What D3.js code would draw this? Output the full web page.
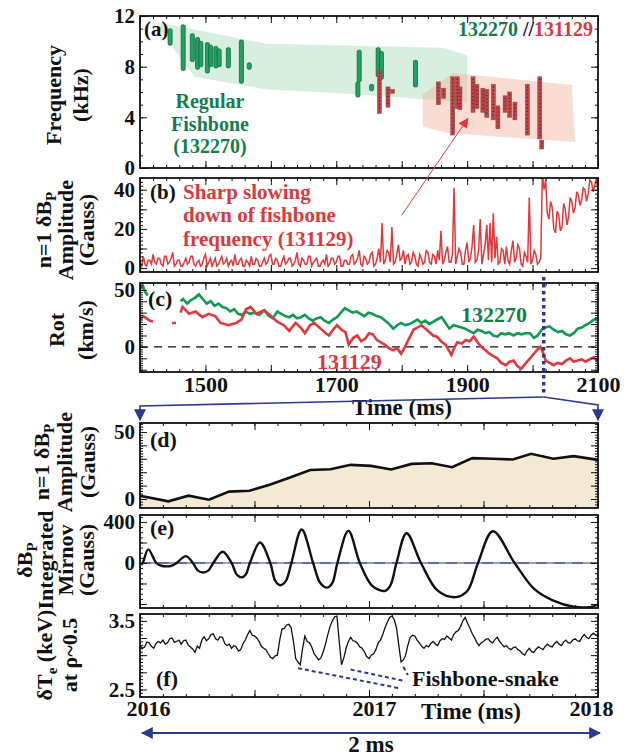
<!DOCTYPE html>
<html>
<head>
<meta charset="utf-8">
<script src="https://cdn.jsdelivr.net/npm/d3@7"></script>
<style>
  body { margin: 0; background: #fff; }
  svg text { font-family: "Liberation Serif", "Times New Roman", serif; font-weight: bold; }
</style>
</head>
<body>
<div id="chart"></div>
<script>
// ---- data ----

// (a) spectrogram bursts: [time ms, low kHz, high kHz]
var greenBursts = [
  [1446, 9.7, 11.0], [1466, 7.7, 11.3], [1480, 8.4, 10.6], [1488, 7.8, 10.3],
  [1493, 8.0, 10.0], [1503, 7.5, 9.9], [1508, 8.0, 9.7], [1516, 7.9, 9.6],
  [1521, 8.0, 9.4], [1535, 7.9, 9.5], [1555, 6.7, 10.1], [1567, 7.8, 8.3],
  [1735, 6.8, 9.3], [1733, 5.6, 6.8], [1754, 6.1, 6.6], [1764, 7.2, 9.5],
  [1769, 7.0, 9.2], [1821, 6.4, 8.5]
];
var redBursts = [
  [1766, 4.3, 7.7], [1779, 4.8, 6.4], [1786, 5.9, 6.2], [1856, 5.0, 6.8],
  [1864, 5.5, 6.3], [1878, 2.6, 7.2], [1885, 4.7, 7.2], [1889, 4.6, 6.4],
  [1909, 4.4, 7.2], [1915, 4.7, 6.6], [1924, 4.4, 6.3], [1930, 4.0, 6.2],
  [1940, 3.8, 6.6], [1947, 3.1, 4.9], [1958, 4.4, 5.7], [1965, 4.0, 6.0],
  [1973, 3.8, 5.2], [1992, 2.6, 6.6], [2011, 2.3, 7.2], [2014, 1.5, 2.2]
];
// shaded regions around the two shots
var greenRegion = [[1428, 11.5], [1594, 9.8], [1863, 9.5], [1900, 8.9], [1900, 5.2],
  [1706, 5.9], [1594, 6.2], [1483, 7.2], [1428, 11.1]];
var redRegion = [[1832, 5.8], [1878, 7.5], [2060, 6.55], [2065, 2.05], [1874, 2.75], [1832, 3.25]];

// (b) n=1 amplitude of 131129, one value every 2.5 ms from 1400
var bStart = 1400, bStep = 2.5;
var bAmp = [
  3, 1, 6, 2, 1, 4, 4, 2, 7, 3, 2, 5, 5, 2, 1, 6, 6, 2, 3, 5,
  8, 1, 2, 4, 4, 1, 1, 3, 5, 2, 3, 6, 6, 2, 1, 3, 4, 1, 2, 5,
  7, 1, 3, 5, 1, 3, 5, 1, 2, 4, 6, 2, 3, 5, 1, 3, 4, 1, 7, 2,
  2, 4, 5, 1, 1, 4, 3, 1, 6, 2, 2, 5, 4, 1, 1, 3, 5, 2, 3, 6,
  7, 2, 2, 5, 4, 1, 1, 4, 6, 2, 3, 5, 5, 1, 2, 4, 8, 2, 1, 5,
  4, 2, 2, 6, 6, 1, 3, 4, 5, 1, 1, 3, 4, 2, 7, 1, 2, 5, 5, 2,
  3, 6, 6, 1, 1, 4, 4, 2, 2, 6, 7, 2, 3, 5, 9, 2, 1, 6, 5, 2,
  3, 7, 8, 1, 2, 5, 10, 3, 23, 2, 4, 9, 8, 3, 21, 2, 3, 7, 12, 4,
  5, 9, 2, 6, 7, 2, 3, 8, 6, 2, 1, 7, 5, 2, 3, 9, 8, 3, 2, 7,
  6, 2, 9, 4, 19, 2, 4, 8, 11, 3, 3, 7, 41, 2, 6, 10, 8, 2, 2, 9,
  13, 3, 5, 11, 22, 3, 4, 9, 25, 2, 7, 12, 22, 4, 23, 3, 28, 5, 16, 2,
  3, 10, 9, 2, 11, 4, 2, 9, 14, 3, 5, 12, 10, 2, 1, 8, 6, 3, 36, 2,
  4, 9, 7, 2, 3, 5, 48, 40, 45, 28, 25, 34, 31, 20, 18, 29, 27, 19, 21, 33,
  30, 22, 26, 36, 34, 28, 31, 39, 37, 32, 35, 41, 40, 34, 38, 45, 44, 39, 42, 46, 40];

// (c) toroidal rotation [time ms, km/s], null = gap
var rotGreen = [[1400, 52], [1404, 54], [1408, 48], [1412, 45], null,
  [1462, 40], [1466, 42], [1472, 38], [1478, 41], [1484, 43], [1490, 46], [1496, 42],
  [1502, 38], [1508, 40], [1514, 36], [1520, 38], [1526, 35], [1532, 34], [1538, 31],
  [1544, 33], [1550, 29], [1556, 28], [1562, 31], [1568, 29], [1575, 30], [1582, 28],
  [1590, 32], [1597, 27], [1603, 25], [1610, 31], [1616, 29], [1622, 27], [1628, 26],
  [1634, 28], [1640, 25], [1646, 26], [1652, 28], [1658, 25], [1664, 23], [1670, 25],
  [1676, 26], [1682, 23], [1689, 21], [1695, 24], [1701, 26], [1707, 30], [1713, 34],
  [1719, 32], [1725, 30], [1731, 31], [1737, 29], [1743, 27], [1749, 30], [1755, 29],
  [1762, 27], [1768, 26], [1775, 23], [1781, 20], [1787, 16], [1793, 19], [1799, 21],
  [1805, 19], [1812, 20], [1818, 22], [1824, 24], [1830, 21], [1836, 23], [1842, 20],
  [1848, 22], [1854, 24], [1861, 26], [1867, 21], [1873, 16], [1879, 19], [1885, 18],
  [1891, 17], [1897, 16], [1903, 14], [1910, 12], [1916, 15], [1922, 14], [1928, 12],
  [1934, 13], [1940, 10], [1946, 9], [1952, 12], [1958, 11], [1964, 12], [1971, 10],
  [1977, 12], [1983, 11], [1989, 12], [1996, 12], [2002, 8], [2008, 10], [2014, 15],
  [2020, 17], [2026, 18], [2032, 15], [2039, 13], [2045, 14], [2051, 11], [2057, 10],
  [2063, 12], [2069, 16], [2075, 17], [2081, 19], [2087, 21], [2094, 24], [2100, 25]];
var rotRed = [[1400, 24], [1405, 27], [1410, 25], [1415, 23], [1420, 22], null,
  [1449, 21], [1455, 21], null,
  [1462, 30], [1465, 35], [1475, 29], [1485, 31], [1495, 26], [1505, 29], [1515, 27],
  [1523, 21], [1535, 19], [1547, 21], [1555, 24], [1562, 33], [1569, 35], [1578, 29],
  [1590, 32], [1600, 27], [1610, 22], [1620, 19], [1628, 14], [1638, 21], [1647, 16],
  [1652, 12], [1660, 19], [1666, 21], [1676, 16], [1684, 12], [1689, 10], [1695, 15],
  [1701, 19], [1708, 15], [1714, 13], [1719, 2], [1726, 8], [1732, 10], [1738, 5],
  [1744, 7], [1750, 12], [1756, 11], [1762, 6], [1768, 4], [1774, 2], [1780, -1],
  [1787, -3], [1793, -1], [1799, -6], [1805, 0], [1810, 6], [1818, 15], [1824, 17],
  [1830, 19], [1836, 16], [1842, 13], [1848, 10], [1854, 9], [1860, 5], [1867, 2],
  [1872, -3], [1876, -7], [1880, -1], [1885, 4], [1892, 3], [1898, 6], [1904, 5],
  [1910, 9], [1916, 4], [1922, 0], [1928, -3], [1934, -6], [1940, -8], [1946, -10],
  [1952, -14], [1959, -16], [1965, -13], [1971, -12], [1977, -17], [1983, -19], [1990, -14],
  [1996, -10], [2002, -6], [2008, -2], [2012, 0], [2016, -5], [2020, -12], [2026, -14],
  [2032, -16], [2038, -14], [2045, -15], [2051, -12], [2057, -10], [2063, -13], [2069, -12],
  [2075, -11], [2081, -13], [2087, -11], [2094, -9], [2100, -13]];

// (d) n=1 amplitude over the 2 ms window
var ampTime = [2016.0, 2016.124, 2016.212, 2016.301, 2016.389, 2016.478, 2016.566, 2016.655,
  2016.743, 2016.832, 2016.92, 2017.009, 2017.097, 2017.186, 2017.274, 2017.363,
  2017.451, 2017.54, 2017.628, 2017.708, 2017.805, 2017.894, 2018.0];
var ampVal = [2.5, -1.7, 2.5, -0.5, 5.5, 6.2, 10.7, 16, 21.7, 22.2, 25.5, 24.7,
  22, 26.2, 26.7, 23.7, 30.5, 30, 29.5, 33.7, 30, 32, 29.2];

// (e) integrated Mirnov signal
var mirTime = [2016.005, 2016.012, 2016.036, 2016.071, 2016.093, 2016.116, 2016.138, 2016.16,
  2016.201, 2016.231, 2016.253, 2016.276, 2016.298, 2016.32, 2016.361, 2016.4,
  2016.422, 2016.444, 2016.462, 2016.48, 2016.524, 2016.569, 2016.591, 2016.613, 2016.637,
  2016.661, 2016.706, 2016.756, 2016.787, 2016.818, 2016.84, 2016.862, 2016.91, 2016.96,
  2017.013, 2017.067, 2017.093, 2017.12, 2017.164, 2017.227, 2017.3, 2017.378, 2017.43,
  2017.476, 2017.541, 2017.636, 2017.72, 2017.805, 2017.894, 2017.964, 2018.0];
var mirVal = [-17, 0, 133, 0, -27, -33, -27, 0,
  67, 0, -75, -93, -75, 0, 110, 0,
  -112, -140, -112, 0, 200, 0, -175, -217, -175,
  0, 327, 0, -195, -240, -195, 0, 313, 0,
  -220, -273, -220, 0, 290, 0, -270, -333, -270,
  0, 310, 0, -250, -367, -427, -430, -405];

// (f) electron temperature, one value every 0.01 ms from 2016
var teStart = 2016, teStep = 0.01;
var teVal = [
  3.15, 3.10, 3.12, 3.19, 3.18, 3.13, 3.10, 3.17, 3.20, 3.18,
  3.22, 3.16, 3.18, 3.24, 3.25, 3.19, 3.20, 3.22, 3.16, 3.21,
  3.22, 3.15, 3.12, 3.09, 3.04, 3.13, 3.10, 3.22, 3.27, 3.21,
  3.24, 3.30, 3.31, 3.24, 3.22, 3.27, 3.26, 3.17, 3.14, 3.16,
  3.10, 3.14, 3.12, 3.06, 3.08, 3.17, 3.22, 3.30, 3.36, 3.29,
  3.28, 3.25, 3.20, 3.13, 3.10, 3.08, 3.02, 2.97, 2.95, 2.99,
  3.00, 3.22, 3.38, 3.39, 3.44, 3.45, 3.40, 3.20, 2.95, 2.90,
  2.86, 3.10, 3.28, 3.20, 3.18, 3.12, 3.02, 2.98, 2.93, 2.96,
  3.05, 3.16, 3.30, 3.42, 3.50, 3.56, 3.57, 3.20, 2.86, 2.96,
  3.10, 3.20, 3.26, 3.21, 3.20, 3.17, 3.12, 3.10, 3.05, 2.98,
  2.95, 3.00, 3.02, 3.08, 3.18, 3.22, 3.30, 3.40, 3.48, 3.55,
  3.57, 3.52, 3.40, 3.15, 2.90, 2.93, 3.00, 3.15, 3.26, 3.29,
  3.28, 3.22, 3.18, 3.13, 3.10, 3.14, 3.12, 3.17, 3.20, 3.16,
  3.14, 3.21, 3.24, 3.23, 3.28, 3.25, 3.22, 3.30, 3.34, 3.36,
  3.42, 3.50, 3.55, 3.47, 3.40, 3.32, 3.26, 3.19, 3.14, 3.18,
  3.20, 3.23, 3.24, 3.20, 3.18, 3.23, 3.26, 3.20, 3.16, 3.12,
  3.14, 3.10, 3.08, 3.11, 3.12, 3.08, 3.06, 3.02, 3.00, 3.06,
  3.10, 3.05, 3.04, 3.09, 3.12, 3.10, 3.08, 3.13, 3.16, 3.13,
  3.12, 3.17, 3.20, 3.16, 3.14, 3.19, 3.22, 3.18, 3.18, 3.22,
  3.24, 3.21, 3.20, 3.26, 3.30, 3.26, 3.24, 3.29, 3.32, 3.29, 3.28];

// ---- canvas ----
var width = 629, height = 756;
var svg = d3.select("#chart").append("svg")
  .attr("width", width)
  .attr("height", height);

var left = 140, right = 598;
var green = "#0f9a52", red = "#e0383c", navy = "#2b3a8f";
var greenText = "#137d4b", redText = "#d83a3d";

var xLong = d3.scaleLinear().domain([1400, 2100]).range([left, right]);
var xShort = d3.scaleLinear().domain([2016, 2018]).range([left, right]);

var ya = d3.scaleLinear().domain([0, 12]).range([168, 16]);
var yb = d3.scaleLinear().domain([-2, 46]).range([272, 178]);
var yc = d3.scaleLinear().domain([-22, 56]).range([372, 283]);
var yd = d3.scaleLinear().domain([-6.7, 56.7]).range([508, 423]);
var ye = d3.scaleLinear().domain([-439, 468]).range([608, 515]);
var yf = d3.scaleLinear().domain([2.39, 3.6]).range([697, 614]);

var defs = svg.append("defs");
function arrowMarker(id, color, size) {
  defs.append("marker")
    .attr("id", id)
    .attr("viewBox", "0 0 10 10")
    .attr("refX", 9).attr("refY", 5)
    .attr("markerUnits", "userSpaceOnUse")
    .attr("markerWidth", size).attr("markerHeight", size)
    .attr("orient", "auto-start-reverse")
    .append("path")
    .attr("d", "M0,0 L10,5 L0,10 z")
    .attr("fill", color);
}
arrowMarker("arrNavy", navy, 12);
arrowMarker("arrRed", red, 10);

function clipFor(id, y) {
  defs.append("clipPath").attr("id", id)
    .append("rect")
    .attr("x", left).attr("y", y.range()[1])
    .attr("width", right - left).attr("height", y.range()[0] - y.range()[1]);
}
clipFor("clipB", yb);
clipFor("clipC", yc);
clipFor("clipE", ye);

// ticks pointing inward on all four sides + frame
function drawAxes(x, y, o) {
  var g = svg.append("g").attr("class", "axes");
  var yBot = y.range()[0], yTop = y.range()[1];

  g.append("g").attr("transform", "translate(" + left + ",0)")
    .call(d3.axisLeft(y).tickValues(o.yMajor).tickSize(-7).tickPadding(5)
      .tickFormat(function(d) { return o.yLabels.indexOf(d) >= 0 ? d : ""; }));
  g.append("g").attr("transform", "translate(" + left + ",0)")
    .call(d3.axisLeft(y).tickValues(o.yMinor).tickSize(-3).tickFormat(""));
  g.append("g").attr("transform", "translate(" + right + ",0)")
    .call(d3.axisRight(y).tickValues(o.yMajor).tickSize(-7).tickFormat(""));
  g.append("g").attr("transform", "translate(" + right + ",0)")
    .call(d3.axisRight(y).tickValues(o.yMinor).tickSize(-3).tickFormat(""));

  g.append("g").attr("transform", "translate(0," + yBot + ")")
    .call(d3.axisBottom(x).tickValues(o.xMajor).tickSize(-7).tickFormat(""));
  g.append("g").attr("transform", "translate(0," + yBot + ")")
    .call(d3.axisBottom(x).tickValues(o.xMinor).tickSize(-3).tickFormat(""));
  g.append("g").attr("transform", "translate(0," + yTop + ")")
    .call(d3.axisTop(x).tickValues(o.xMajor).tickSize(-7).tickFormat(""));
  g.append("g").attr("transform", "translate(0," + yTop + ")")
    .call(d3.axisTop(x).tickValues(o.xMinor).tickSize(-3).tickFormat(""));

  g.selectAll(".domain").remove();
  g.selectAll(".tick line").attr("stroke", "#111").attr("stroke-width", 1);
  g.selectAll(".tick text").attr("font-size", "21px").attr("fill", "#111");

  g.append("rect")
    .attr("x", left).attr("y", yTop)
    .attr("width", right - left).attr("height", yBot - yTop)
    .attr("fill", "none").attr("stroke", "#111").attr("stroke-width", 1.8);
  return g;
}

function steps(a, b, s) {
  return d3.range(Math.round((b - a) / s) + 1).map(function(i) { return +(a + i * s).toFixed(3); });
}
var longMajor = steps(1400, 2100, 100), longMinor = steps(1400, 2100, 20);
var shortMajor = steps(2016, 2018, 0.5), shortMinor = steps(2016, 2018, 0.1);

// rotated y titles; each line: [x, text, subscript, rest]
function yTitle(cy, lines) {
  lines.forEach(function(l) {
    var t = svg.append("text")
      .attr("transform", "translate(" + l[0] + "," + cy + ")rotate(-90)")
      .attr("text-anchor", "middle")
      .attr("font-size", "22px")
      .attr("fill", "#111");
    t.append("tspan").text(l[1]);
    if (l[2]) {
      t.append("tspan").attr("dy", 5).attr("font-size", "15px").text(l[2]);
      t.append("tspan").attr("dy", -5).text(l[3] || "");
    }
  });
}

function label(x, y, txt, color, size, anchor) {
  return svg.append("text")
    .attr("x", x).attr("y", y)
    .attr("fill", color || "#111")
    .attr("font-size", (size || 22) + "px")
    .attr("text-anchor", anchor || "start")
    .text(txt);
}

// ---- (a) frequency spectrogram ----
var poly = d3.line().x(function(d) { return xLong(d[0]); }).y(function(d) { return ya(d[1]); });
svg.append("path").attr("d", poly(greenRegion) + "Z")
  .attr("fill", "#a9dab8").attr("opacity", 0.45);
svg.append("path").attr("d", poly(redRegion) + "Z")
  .attr("fill", "#f2b19d").attr("opacity", 0.45);

svg.selectAll(".gBurst").data(greenBursts).enter()
  .append("rect")
  .attr("class", "gBurst")
  .attr("x", function(d) { return xLong(d[0]) - 2; })
  .attr("y", function(d) { return ya(d[2]); })
  .attr("width", 4)
  .attr("height", function(d) { return ya(d[1]) - ya(d[2]); })
  .attr("rx", 1.5)
  .attr("fill", "#23a062")
  .attr("stroke", "#0b6a3b")
  .attr("stroke-width", 0.8);

svg.selectAll(".rBurst").data(redBursts).enter()
  .append("rect")
  .attr("class", "rBurst")
  .attr("x", function(d) { return xLong(d[0]) - 2; })
  .attr("y", function(d) { return ya(d[2]); })
  .attr("width", 4)
  .attr("height", function(d) { return ya(d[1]) - ya(d[2]); })
  .attr("fill", "#bf4649")
  .attr("stroke", "#9a3437")
  .attr("stroke-width", 0.5);
svg.selectAll(".rDots").data(redBursts).enter()
  .append("line")
  .attr("x1", function(d) { return xLong(d[0]); })
  .attr("x2", function(d) { return xLong(d[0]); })
  .attr("y1", function(d) { return ya(d[2]) + 2; })
  .attr("y2", function(d) { return ya(d[1]) - 2; })
  .attr("stroke", "#3b2626")
  .attr("stroke-width", 1.2)
  .attr("stroke-dasharray", "1,2.5");

drawAxes(xLong, ya, { yMajor: [0, 4, 8, 12], yMinor: steps(0, 12, 1), yLabels: [0, 4, 8, 12],
  xMajor: longMajor, xMinor: longMinor });
yTitle(95, [[61, "Frequency"], [88, "(kHz)"]]);
label(144, 36, "(a)", "#111", 21);
var leg = label(593, 36, "", "#111", 20, "end");
leg.append("tspan").attr("fill", greenText).text("132270 ");
leg.append("tspan").attr("fill", "#111").text("//");
leg.append("tspan").attr("fill", redText).text("131129");
label(210, 108, "Regular", greenText, 20, "middle");
label(210, 130.5, "Fishbone", greenText, 20, "middle");
label(210, 153, "(132270)", greenText, 20, "middle");

// ---- (b) n=1 amplitude ----
var bLine = d3.line()
  .x(function(d, i) { return xLong(bStart + i * bStep); })
  .y(function(d) { return yb(d); });
svg.append("path").attr("d", bLine(bAmp))
  .attr("clip-path", "url(#clipB)")
  .attr("fill", "none").attr("stroke", red).attr("stroke-width", 1.5);

drawAxes(xLong, yb, { yMajor: [0, 10, 20, 30, 40], yMinor: steps(0, 46, 2), yLabels: [0, 20, 40],
  xMajor: longMajor, xMinor: longMinor });
yTitle(230, [[51, "n=1 \u03b4B", "P"], [73, "Amplitude"], [94, "(Gauss)"]]);
label(150, 198.5, "(b)", "#111", 21);
label(183, 198.5, "Sharp slowing", redText, 21);
label(183, 222, "down of fishbone", redText, 21);
label(183, 245.5, "frequency (131129)", redText, 21);

// arrow from the (b) note up to the red burst region
svg.append("line")
  .attr("x1", xLong(1800)).attr("y1", yb(27))
  .attr("x2", xLong(1901)).attr("y2", ya(3.9))
  .attr("stroke", red).attr("stroke-width", 1)
  .attr("marker-end", "url(#arrRed)");

// ---- (c) rotation ----
svg.append("line")
  .attr("x1", left).attr("x2", right)
  .attr("y1", yc(0)).attr("y2", yc(0))
  .attr("stroke", "#111").attr("stroke-width", 1.3).attr("stroke-dasharray", "8,6");
var cLine = d3.line()
  .defined(function(d) { return d !== null; })
  .x(function(d) { return xLong(d[0]); })
  .y(function(d) { return yc(d[1]); });
svg.append("path").attr("d", cLine(rotGreen)).attr("clip-path", "url(#clipC)")
  .attr("fill", "none").attr("stroke", green).attr("stroke-width", 2.6);
svg.append("path").attr("d", cLine(rotRed)).attr("clip-path", "url(#clipC)")
  .attr("fill", "none").attr("stroke", red).attr("stroke-width", 2.6);

var axC = drawAxes(xLong, yc, { yMajor: steps(-20, 50, 10), yMinor: steps(-22, 56, 2), yLabels: [0, 50],
  xMajor: longMajor, xMinor: longMinor });
axC.append("g").attr("transform", "translate(0," + yc.range()[0] + ")")
  .call(d3.axisBottom(xLong).tickValues([1500, 1700, 1900, 2100]).tickSize(0).tickPadding(4)
    .tickFormat(d3.format("d")))
  .call(function(g) { g.select(".domain").remove(); })
  .selectAll("text").attr("font-size", "22px").attr("fill", "#111");
yTitle(330, [[64, "Rot"], [93, "(km/s)"]]);
label(148, 306, "(c)", "#111", 22);
label(461, 322, "132270", greenText, 22);
label(317, 369, "131129", redText, 22);
label(402, 415, "Time (ms)", "#111", 23, "middle");

// zoom marker at 2017 ms and its connectors to the lower panels
svg.append("line")
  .attr("x1", xLong(2017)).attr("x2", xLong(2017))
  .attr("y1", 277).attr("y2", 394)
  .attr("stroke", navy).attr("stroke-width", 3.5).attr("stroke-dasharray", "3.5,3.5");
[[2016, 406], [2018, 405]].forEach(function(p) {
  svg.append("polyline")
    .attr("points", [[xLong(2017), 397], [xShort(p[0]), p[1]], [xShort(p[0]), 420]].join(" "))
    .attr("fill", "none").attr("stroke", navy).attr("stroke-width", 1.6)
    .attr("marker-end", "url(#arrNavy)");
});

// ---- (d) amplitude in the 2 ms window ----
var dArea = d3.area()
  .x(function(d, i) { return xShort(ampTime[i]); })
  .y0(yd.range()[0])
  .y1(function(d) { return yd(d); });
svg.append("path").attr("d", dArea(ampVal)).attr("fill", "#f4e9d5");
var dLine = d3.line()
  .x(function(d, i) { return xShort(ampTime[i]); })
  .y(function(d) { return yd(d); });
svg.append("path").attr("d", dLine(ampVal))
  .attr("fill", "none").attr("stroke", "#111").attr("stroke-width", 2.6);
drawAxes(xShort, yd, { yMajor: steps(0, 50, 10), yMinor: steps(-6, 56, 2), yLabels: [0, 50],
  xMajor: shortMajor, xMinor: shortMinor });
yTitle(462, [[49, "n=1 \u03b4B", "P"], [72, "Amplitude"], [95, "(Gauss)"]]);
label(150, 447, "(d)", "#111", 22);

// ---- (e) integrated Mirnov ----
svg.append("line")
  .attr("x1", left).attr("x2", right).attr("y1", ye(0)).attr("y2", ye(0))
  .attr("stroke", "#111").attr("stroke-width", 0.8);
svg.append("line")
  .attr("x1", left).attr("x2", right).attr("y1", ye(0)).attr("y2", ye(0))
  .attr("stroke", "#5a6db5").attr("stroke-width", 2).attr("stroke-dasharray", "11,7");
var eLine = d3.line()
  .curve(d3.curveCatmullRom.alpha(0.5))
  .x(function(d, i) { return xShort(mirTime[i]); })
  .y(function(d) { return ye(d); });
svg.append("path").attr("d", eLine(mirVal)).attr("clip-path", "url(#clipE)")
  .attr("fill", "none").attr("stroke", "#111").attr("stroke-width", 2.4);
drawAxes(xShort, ye, { yMajor: [-400, -200, 0, 200, 400], yMinor: steps(-400, 450, 50), yLabels: [0, 400],
  xMajor: shortMajor, xMinor: shortMinor });
yTitle(560, [[32, "\u03b4B", "P"], [53, "Integrated"], [73, "Mirnov"], [94, "(Gauss)"]]);
label(150, 535, "(e)", "#111", 22);

// ---- (f) electron temperature ----
var fLine = d3.line()
  .x(function(d, i) { return xShort(teStart + i * teStep); })
  .y(function(d) { return yf(d); });
svg.append("path").attr("d", fLine(teVal))
  .attr("fill", "none").attr("stroke", "#111").attr("stroke-width", 1.3);
var axF = drawAxes(xShort, yf, { yMajor: [2.5, 2.75, 3, 3.25, 3.5], yMinor: steps(2.4, 3.6, 0.05), yLabels: [2.5, 3.5],
  xMajor: shortMajor, xMinor: shortMinor });
var fLabelShift = [8, 5, -7];
axF.append("g").attr("transform", "translate(0," + yf.range()[0] + ")")
  .call(d3.axisBottom(xShort).tickValues([2016, 2017, 2018]).tickSize(0).tickPadding(3).tickFormat(d3.format("d")))
  .call(function(g) { g.select(".domain").remove(); })
  .selectAll("text")
  .attr("font-size", "22px").attr("fill", "#111")
  .attr("dx", function(d, i) { return fLabelShift[i]; });
yTitle(655, [[52, "\u03b4T", "e", " (keV)"], [77, "at \u03c1~0.5"]]);
label(156, 686, "(f)", "#111", 22);
label(412, 686, "Fishbone-snake", "#111", 22);
label(471, 719, "Time (ms)", "#111", 23, "middle");

// pointers from the snake dips to the note
[[2016.69, 2.81, 2017.13, 2.52], [2016.92, 2.79, 2017.16, 2.62], [2017.15, 2.83, 2017.17, 2.71]].forEach(function(p) {
  svg.append("line")
    .attr("x1", xShort(p[0])).attr("y1", yf(p[1]))
    .attr("x2", xShort(p[2])).attr("y2", yf(p[3]))
    .attr("stroke", navy).attr("stroke-width", 2).attr("stroke-dasharray", "4,3");
});

// 2 ms span arrow
svg.append("line")
  .attr("x1", xShort(2016) + 2).attr("x2", xShort(2018) + 2)
  .attr("y1", 733).attr("y2", 733)
  .attr("stroke", navy).attr("stroke-width", 2)
  .attr("marker-start", "url(#arrNavy)")
  .attr("marker-end", "url(#arrNavy)");
label(371, 752, "2 ms", "#111", 23, "middle");
</script>
</body>
</html>
